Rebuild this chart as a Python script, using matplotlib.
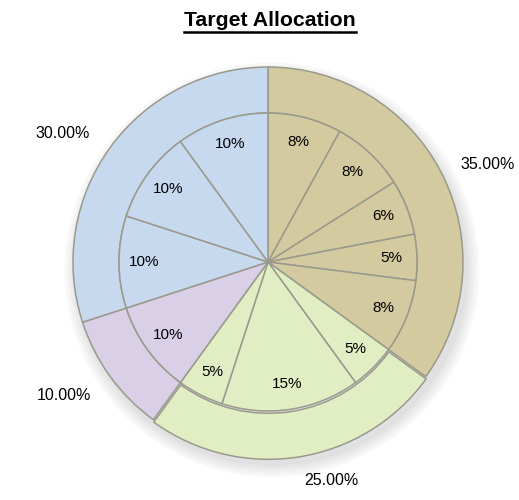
import numpy as np
import matplotlib.pyplot as plt
from matplotlib.lines import Line2D

plt.rcParams['font.family'] = ['Liberation Sans', 'DejaVu Sans']

# Outer ring: asset classes
outer_vals = [35, 25, 10, 30]
outer_labels = ["35.00%", "25.00%", "10.00%", "30.00%"]
outer_colors = ["#D3CA9F", "#E1EDC3", "#D9CFE6", "#C6D9EF"]

# Inner pie: funds within each class
inner_vals = [8, 8, 6, 5, 8, 5, 15, 5, 10, 10, 10, 10]
inner_labels = ["8%", "8%", "6%", "5%", "8%", "5%", "15%", "5%", "10%", "10%", "10%", "10%"]
inner_group = [0, 0, 0, 0, 0, 1, 1, 1, 2, 3, 3, 3]

fig = plt.figure(figsize=(5.19, 5.0), dpi=100)
ax = fig.add_axes([0, 0, 1, 1])
ax.axis('off')

r_in = 0.764
edge = dict(edgecolor="#9A9A8C", linewidth=1.1)

# soft shadow
for k in range(6):
    sh = plt.Circle((0.02, -0.04), 1.0 + 0.012 * k, color="#000000", alpha=0.02, zorder=0)
    ax.add_patch(sh)

wedges, texts = ax.pie(outer_vals, radius=1.0, colors=outer_colors, startangle=90,
                       counterclock=False, labels=outer_labels, labeldistance=1.2,
                       explode=[0, 0.012, 0, 0],
                       wedgeprops=dict(width=1.0 - r_in, **edge),
                       textprops=dict(fontsize=11.5, color="#000000"))

# Excel-like placement of the outer labels (angle nudge in degrees, distance)
nudge = [(-3.2, 1.233), (7.1, 1.164), (-2.9, 1.249), (4.0, 1.239)]
for w, t, (da, rr) in zip(wedges, texts, nudge):
    ang = np.deg2rad((w.theta1 + w.theta2) / 2 + da)
    t.set_position((rr * np.cos(ang), rr * np.sin(ang)))
    t.set_horizontalalignment('center')
    t.set_verticalalignment('center')

inner_colors = [outer_colors[g] for g in inner_group]
w2, t2 = ax.pie(inner_vals, radius=r_in, colors=inner_colors, startangle=90,
                counterclock=False, labels=inner_labels, labeldistance=0.83,
                wedgeprops=edge, textprops=dict(fontsize=11, color="#000000"))
for t in t2:
    t.set_horizontalalignment('center')
    t.set_verticalalignment('center')

ax.set_xlim(-268 / 195, (519 - 268) / 195)
ax.set_ylim(-(500 - 262) / 195, 262 / 195)
ax.set_aspect('auto')

title = fig.text(270 / 519, 1 - 20 / 500, "Target Allocation", ha='center', va='center',
                 fontsize=15.3, fontweight='bold')
fig.canvas.draw()
bb = title.get_window_extent()
uy = (500 - 32) / 500
fig.add_artist(Line2D([bb.x0 / 519, bb.x1 / 519], [uy, uy],
                      color='black', linewidth=1.8, transform=fig.transFigure))

fig.savefig("out.png", dpi=100)
